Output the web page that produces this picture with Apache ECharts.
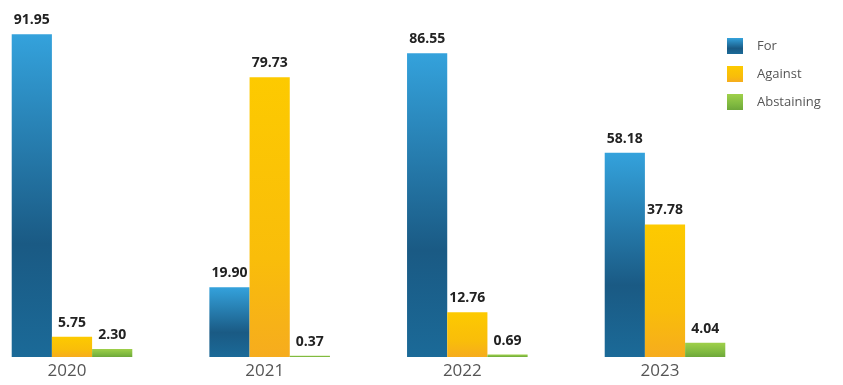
<!DOCTYPE html>
<html>
<head>
<meta charset="utf-8">
<script src="https://cdn.jsdelivr.net/npm/echarts@6/dist/echarts.min.js"></script>
<style>
html,body{margin:0;padding:0;background:#fff;}
#c{width:843px;height:385px;}
</style>
</head>
<body>
<div id="c"></div>
<script>
const years = ['2020', '2021', '2022', '2023'];
const forVals = [91.95, 19.90, 86.55, 58.18];
const againstVals = [5.75, 79.73, 12.76, 37.78];
const abstainVals = [2.30, 0.37, 0.69, 4.04];

const chart = echarts.init(document.getElementById('c'));
const grad = (c1, c2, c3) => new echarts.graphic.LinearGradient(0, 0, 0, 1, [
  {offset: 0, color: c1}, {offset: 0.65, color: c2}, {offset: 1, color: c3}
]);
const label = {
  show: true, position: 'top', distance: 7,
  formatter: p => p.value.toFixed(2),
  color: '#222', fontWeight: 'bold', fontSize: 14, fontFamily: 'Open Sans'
};
chart.setOption({
  animation: false,
  legend: {
    orient: 'vertical', left: 722, top: 33, itemWidth: 16, itemHeight: 16, itemGap: 12,
    icon: 'rect',
    textStyle: {color: '#555', fontSize: 13, fontFamily: 'Open Sans', padding: [0, 0, 0, 9]},
    data: ['For', 'Against', 'Abstaining']
  },
  grid: {left: 72, right: 178, top: 6, bottom: 28},
  xAxis: {
    type: 'category', data: years, boundaryGap: false,
    axisLine: {show: false}, axisTick: {show: false},
    axisLabel: {color: '#555', fontSize: 17, fontFamily: 'Open Sans', margin: 6, padding: [0, 10, 0, 0]}
  },
  yAxis: {type: 'value', min: 0, max: 100, show: false, splitLine: {show: false}},
  series: [
    {name: 'For', type: 'bar', data: forVals, barGap: '0%', barCategoryGap: '39%',
     itemStyle: {color: grad('#34a2dc', '#1a5a84', '#1b6a98')}, label},
    {name: 'Against', type: 'bar', data: againstVals,
     itemStyle: {color: grad('#fdca00', '#f9bd0a', '#f6ac1e')}, label},
    {name: 'Abstaining', type: 'bar', data: abstainVals,
     itemStyle: {color: grad('#9fd04a', '#7fb940', '#6ea73a')}, label}
  ]
});
</script>
</body>
</html>
